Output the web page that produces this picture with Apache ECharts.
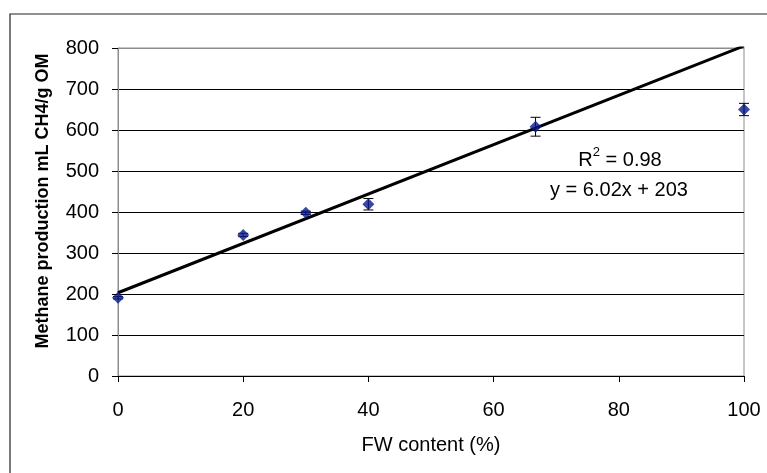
<!DOCTYPE html>
<html><head><meta charset="utf-8">
<script src="https://cdn.jsdelivr.net/npm/echarts@6/dist/echarts.min.js"></script>
<style>html,body{margin:0;padding:0;background:#fff}#c{width:767px;height:473px}</style>
</head><body><div id="c"></div>
<script>
// Data
const fwContent = [0, 20, 30, 40, 66.7, 100];
const methaneYield = [191, 344, 398, 419, 608, 650];
const errorSize = [3, 4, 4, 14, 23, 15];
const xMin = 0, xMax = 100, xStep = 20;
const yMin = 0, yMax = 800, yStep = 100;
const trendSlope = 6.02;
const trendIntercept = 203;
const rSquared = 0.98;

const FONT = "'Liberation Sans', Arial, sans-serif";
const chart = echarts.init(document.getElementById('c'), null, {renderer: 'canvas'});

const points = fwContent.map((x, i) => [x, methaneYield[i]]);
const errData = fwContent.map((x, i) => [x, methaneYield[i] - errorSize[i], methaneYield[i] + errorSize[i]]);
const trendData = [xMin, xMax].map(x => [x, trendSlope * x + trendIntercept]);

const nSplit = (yMax - yMin) / yStep + 1;
const splitColors = [];
for (let i = 0; i < nSplit; i++) splitColors.push(i === nSplit - 1 ? '#8c8c8c' : '#000');

chart.setOption({
  animation: false,
  backgroundColor: '#fff',
  grid: {left: 118, top: 48, right: 23, bottom: 97, show: true, borderColor: '#8c8c8c', borderWidth: 1, backgroundColor: 'transparent'},
  xAxis: {
    type: 'value', min: xMin, max: xMax, interval: xStep,
    name: 'FW content (%)', nameLocation: 'middle', nameGap: 59,
    nameTextStyle: {fontFamily: FONT, fontSize: 20, color: '#000'},
    axisLine: {show: true, onZero: false, lineStyle: {color: '#000', width: 1}},
    axisTick: {show: true, inside: false, length: 6, lineStyle: {color: '#000'}},
    axisLabel: {fontFamily: FONT, fontSize: 20, color: '#000', margin: 24},
    splitLine: {show: false}
  },
  yAxis: {
    type: 'value', min: yMin, max: yMax, interval: yStep,
    axisLine: {show: true, onZero: false, lineStyle: {color: '#8c8c8c', width: 1}},
    axisTick: {show: true, inside: false, length: 6, lineStyle: {color: '#000'}},
    axisLabel: {fontFamily: FONT, fontSize: 20, color: '#000', margin: 19},
    splitLine: {show: true, lineStyle: {color: splitColors, width: 1}}
  },
  graphic: [
    {type: 'rect', shape: {x: 10, y: 14, width: 800, height: 500}, style: {fill: 'none', stroke: '#222', lineWidth: 1.2}, z: 0, silent: true},
    {type: 'text', x: 43, y: 201, rotation: Math.PI / 2,
     style: {text: 'Methane production mL CH4/g OM', font: 'bold 18px ' + FONT, fill: '#000', align: 'center', verticalAlign: 'middle'}},
    {type: 'text', x: 620, y: 158,
     style: {text: '{a|R}{s|2}{a| = ' + rSquared.toFixed(2) + '}', align: 'center', verticalAlign: 'middle',
       rich: {a: {fontFamily: FONT, fontSize: 20, color: '#000', lineHeight: 24, verticalAlign: 'bottom'},
              s: {fontFamily: FONT, fontSize: 13, color: '#000', lineHeight: 24, verticalAlign: 'top', padding: [0, 0, 10, 0]}}}},
    {type: 'text', x: 619, y: 190,
     style: {text: 'y = ' + trendSlope.toFixed(2) + 'x + ' + trendIntercept, font: '20px ' + FONT, fill: '#000', align: 'center', verticalAlign: 'middle'}}
  ],
  series: [
    {type: 'line', data: trendData, symbol: 'none', clip: true,
     lineStyle: {color: '#000', width: 3}, z: 2, silent: true},
    {type: 'custom', data: errData, z: 3, silent: true,
     renderItem: function (params, api) {
       const lo = api.coord([api.value(0), api.value(1)]);
       const hi = api.coord([api.value(0), api.value(2)]);
       const hw = 5;
       const st = {stroke: '#000', lineWidth: 1};
       return {type: 'group', children: [
         {type: 'line', shape: {x1: lo[0], y1: lo[1], x2: hi[0], y2: hi[1]}, style: st},
         {type: 'line', shape: {x1: lo[0] - hw, y1: lo[1], x2: lo[0] + hw, y2: lo[1]}, style: st},
         {type: 'line', shape: {x1: hi[0] - hw, y1: hi[1], x2: hi[0] + hw, y2: hi[1]}, style: st}
       ]};
     }},
    {type: 'scatter', data: points, symbol: 'diamond', symbolSize: 12, z: 4,
     itemStyle: {color: '#0a1a8c'}}
  ]
});
</script>
</body></html>
